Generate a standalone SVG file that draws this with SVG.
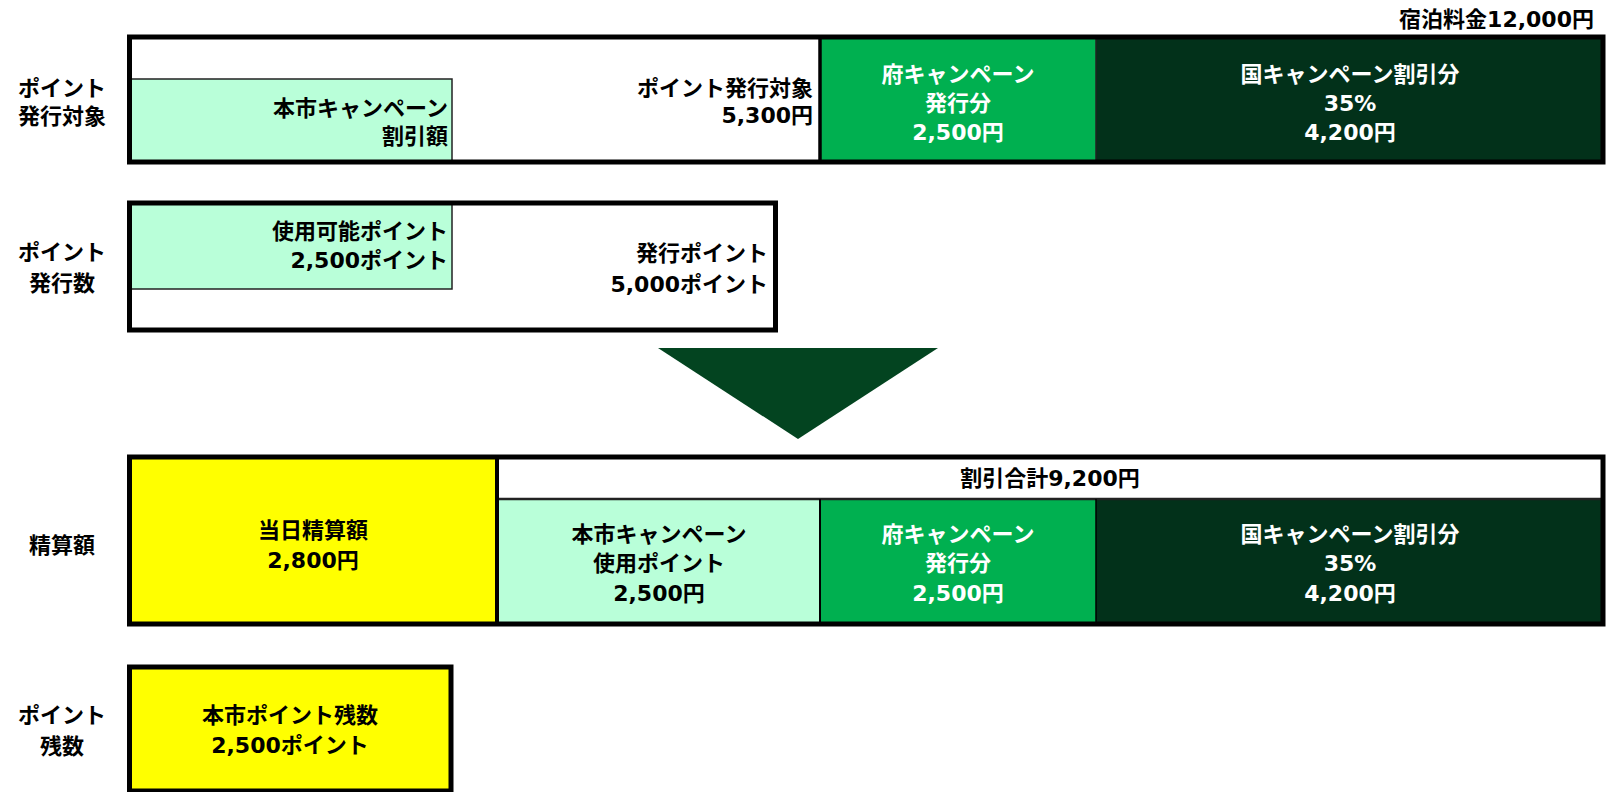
<svg xmlns="http://www.w3.org/2000/svg" width="1608" height="792" viewBox="0 0 1608 792">
<style>
text{font-family:"DejaVu Sans","Noto Sans CJK JP",sans-serif;font-weight:bold;font-size:22px;fill:#000}
.w{fill:#fff}
.r{text-anchor:end}
.c{text-anchor:middle}
.outer{fill:none;stroke:#000;stroke-width:5}
.thin{stroke:#222;stroke-width:1.5}
.lg{fill:#B9FFD9}
.g{fill:#00B050}
.dg{fill:#02311A}
.y{fill:#FFFF00}
</style>
<rect width="1608" height="792" fill="#fff"/>
<text class="r" x="1594" y="27">宿泊料金12,000円</text>

<g id="label-hakko-taisho"><text class="c" x="62" y="96">ポイント</text><text class="c" x="62" y="124">発行対象</text></g>
<g id="label-hakko-su"><text class="c" x="62" y="260">ポイント</text><text class="c" x="62" y="291">発行数</text></g>
<g id="label-seisan"><text class="c" x="62" y="553">精算額</text></g>
<g id="label-zansu"><text class="c" x="62" y="723">ポイント</text><text class="c" x="62" y="754">残数</text></g>

<g id="row1">
<rect x="129.5" y="37" width="1473.5" height="125" fill="#fff"/>
<rect class="lg thin" x="131" y="79" width="321" height="83"/>
<rect class="g" x="820" y="37" width="276" height="125"/>
<rect class="dg" x="1096" y="37" width="507" height="125"/>
<line x1="820" y1="37" x2="820" y2="162" stroke="#000" stroke-width="3.5"/>
<line class="thin" x1="1096" y1="37" x2="1096" y2="162"/>
<rect class="outer" x="129.5" y="37" width="1473.5" height="125"/>
<text class="r" x="448" y="116">本市キャンペーン</text>
<text class="r" x="448" y="144">割引額</text>
<text class="r" x="813" y="96">ポイント発行対象</text>
<text class="r" x="813" y="123">5,300円</text>
<text class="c w" x="958" y="82">府キャンペーン</text>
<text class="c w" x="958" y="111">発行分</text>
<text class="c w" x="958" y="140">2,500円</text>
<text class="c w" x="1350" y="82">国キャンペーン割引分</text>
<text class="c w" x="1350" y="111">35%</text>
<text class="c w" x="1350" y="140">4,200円</text>
</g>

<g id="row2">
<rect x="129.5" y="203" width="646" height="127" fill="#fff"/>
<rect class="lg thin" x="131" y="203" width="321" height="86"/>
<rect class="outer" x="129.5" y="203" width="646" height="127"/>
<text class="r" x="448" y="239">使用可能ポイント</text>
<text class="r" x="448" y="268">2,500ポイント</text>
<text class="r" x="768" y="261">発行ポイント</text>
<text class="r" x="768" y="292">5,000ポイント</text>
</g>

<g id="connectors">
<polygon points="658,348 938,348 798,439" fill="#034420"/>
</g>

<g id="row3">
<rect class="y" x="129.5" y="457" width="367.5" height="167"/>
<rect x="497" y="457" width="1106" height="42" fill="#fff"/>
<rect class="lg" x="497" y="499" width="323" height="125"/>
<rect class="g" x="820" y="499" width="276" height="125"/>
<rect class="dg" x="1096" y="499" width="507" height="125"/>
<line x1="497" y1="499" x2="1603" y2="499" stroke="#222" stroke-width="2.5"/>
<line x1="820" y1="499" x2="820" y2="624" stroke="#000" stroke-width="2"/>
<line x1="1096" y1="499" x2="1096" y2="624" stroke="#000" stroke-width="1.5"/>
<line x1="497" y1="457" x2="497" y2="624" stroke="#000" stroke-width="4"/>
<rect class="outer" x="129.5" y="457" width="1473.5" height="167"/>
<text class="c" x="313" y="538">当日精算額</text>
<text class="c" x="313" y="568">2,800円</text>
<text class="c" x="1050" y="486">割引合計9,200円</text>
<text class="c" x="659" y="542">本市キャンペーン</text>
<text class="c" x="659" y="571">使用ポイント</text>
<text class="c" x="659" y="601">2,500円</text>
<text class="c w" x="958" y="542">府キャンペーン</text>
<text class="c w" x="958" y="571">発行分</text>
<text class="c w" x="958" y="601">2,500円</text>
<text class="c w" x="1350" y="542">国キャンペーン割引分</text>
<text class="c w" x="1350" y="571">35%</text>
<text class="c w" x="1350" y="601">4,200円</text>
</g>

<g id="row4">
<rect class="y outer" x="129.5" y="667" width="321.5" height="124" style="fill:#FFFF00"/>
<text class="c" x="290" y="723">本市ポイント残数</text>
<text class="c" x="290" y="753">2,500ポイント</text>
</g>
</svg>
